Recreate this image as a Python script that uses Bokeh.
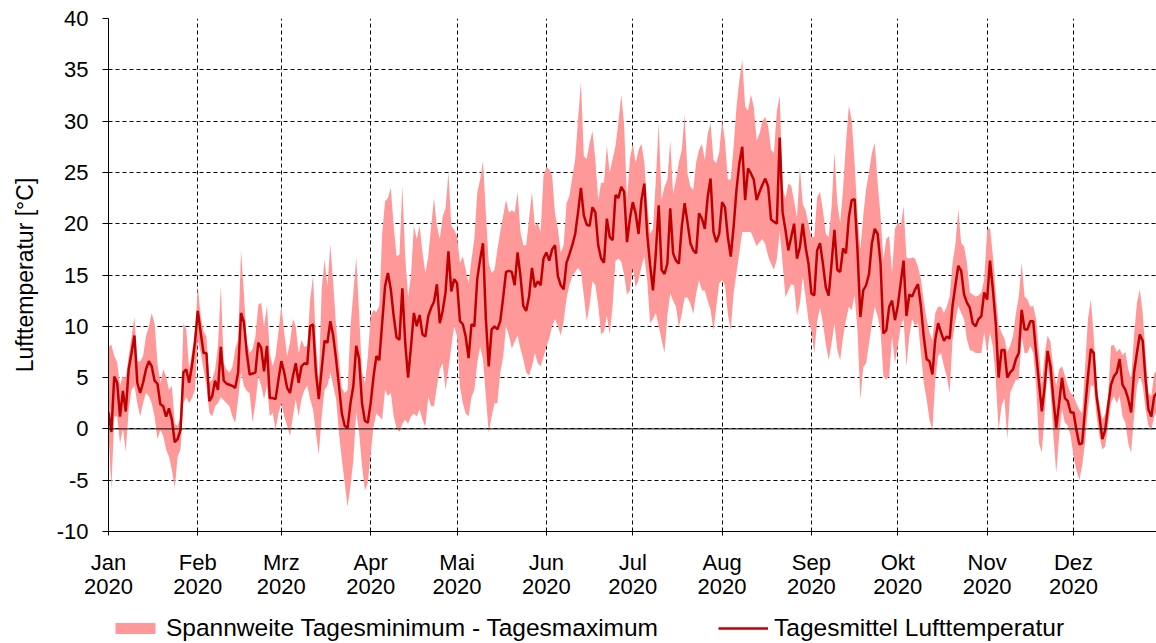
import numpy as np
from bokeh.plotting import figure
from bokeh.layouts import column
from bokeh.models import (Range1d, FixedTicker, Span, Legend, LegendItem,
                          ColumnDataSource)
from bokeh.embed import file_html
from bokeh.resources import INLINE

# Daily air temperature 2020 (°C): daily mean, daily minimum, daily maximum
t_mean = [
    # Jan
    1.6, -0.3, 5.1, 4.5, 1.2, 3.7, 1.7, 5.8, 7.4, 9.1, 4.5, 3.5, 4.5, 5.8, 6.6, 6.1,
    4.7, 4.4, 2.4, 2.2, 1.2, 2.0, 0.9, -1.3, -1.0, -0.1, 5.5, 5.8, 4.5, 6.2, 8.4,
    # Feb
    11.5, 9.4, 7.4, 7.4, 2.7, 3.2, 4.7, 3.8, 8.0, 4.7, 4.4, 4.3, 4.2, 4.0, 5.5,
    11.3, 10.4, 7.4, 5.3, 5.4, 5.5, 8.4, 7.9, 5.6, 8.1, 3.0, 3.0, 2.9, 4.8,
    # Mrz
    6.6, 5.5, 4.0, 3.5, 5.1, 6.4, 4.5, 6.1, 6.4, 6.3, 10.0, 10.2, 5.5, 2.9, 5.8,
    8.6, 8.4, 10.5, 9.1, 6.8, 4.2, 1.5, 0.3, 0.1, 2.5, 4.2, 8.1, 6.8, 2.5, 0.8, 0.6,
    # Apr
    2.5, 5.1, 7.1, 6.7, 10.3, 13.9, 15.2, 13.6, 11.0, 8.9, 8.7, 13.7, 8.4, 5.0, 8.0,
    11.3, 10.0, 11.1, 9.2, 9.0, 11.0, 11.8, 12.4, 14.1, 10.3, 11.5, 13.3, 17.3, 13.4, 14.6,
    # Mai
    14.2, 10.5, 10.2, 9.0, 6.9, 10.2, 10.0, 14.6, 16.5, 18.1, 10.7, 6.1, 9.7, 10.0, 9.7,
    10.5, 12.8, 15.3, 15.4, 15.3, 14.0, 17.2, 14.9, 12.0, 11.5, 12.9, 15.7, 13.8, 14.4, 14.0, 16.6,
    # Jun
    17.2, 16.4, 17.5, 17.9, 14.9, 14.0, 13.6, 16.2, 17.0, 17.9, 19.0, 21.1, 23.5, 20.8, 19.9,
    19.8, 21.6, 21.1, 17.9, 16.6, 16.2, 20.5, 18.7, 18.4, 22.8, 22.5, 23.6, 23.1, 18.2, 20.5,
    # Jul
    22.1, 21.0, 19.0, 22.3, 23.9, 19.0, 16.0, 13.5, 17.1, 21.8, 15.5, 15.1, 16.1, 21.5, 17.1,
    16.4, 16.1, 19.7, 22.0, 20.1, 18.1, 17.4, 17.1, 21.0, 20.5, 19.5, 22.6, 24.4, 19.2, 18.2, 19.0,
    # Aug
    22.1, 21.6, 18.7, 16.8, 19.7, 23.3, 25.9, 27.5, 22.3, 25.4, 24.9, 24.3, 22.3, 23.1, 23.8,
    24.4, 23.6, 20.4, 20.2, 20.0, 28.4, 21.1, 19.4, 17.4, 18.7, 20.0, 16.6, 17.7, 20.0, 17.7, 16.1,
    # Sep
    13.2, 13.0, 17.4, 18.1, 16.1, 13.8, 13.0, 16.1, 19.4, 15.5, 15.3, 17.6, 17.1, 20.6, 22.3,
    22.4, 17.4, 10.9, 13.5, 14.0, 15.1, 18.1, 19.5, 19.0, 16.1, 9.3, 9.6, 11.9, 12.5, 10.6,
    # Okt
    12.0, 14.2, 16.4, 11.0, 13.1, 12.9, 13.6, 14.1, 12.0, 9.0, 6.8, 6.6, 5.3, 8.7, 10.3,
    9.4, 8.6, 9.0, 8.8, 12.0, 14.0, 15.9, 15.4, 13.1, 12.3, 11.8, 10.3, 10.0, 10.7, 11.0, 13.3,
    # Nov
    12.6, 16.4, 13.6, 10.3, 5.0, 7.7, 7.7, 5.0, 5.5, 5.8, 6.8, 7.4, 11.6, 9.7, 9.7,
    10.5, 10.5, 7.4, 4.5, 1.7, 4.2, 7.6, 6.1, 2.9, 0.1, 2.5, 5.0, 3.0, 2.7, 1.6,
    # Dez
    1.6, -0.1, -1.5, -1.4, 1.9, 5.1, 7.8, 7.4, 3.2, 1.2, -1.0, -0.1, 2.2, 4.3, 5.1,
    5.5, 6.8, 4.3, 3.8, 2.9, 1.6, 5.5, 7.4, 9.2, 8.6, 4.8, 1.9, 1.2, 3.2, 3.5, 3.2,
]

t_max = [
    # Jan
    8.0, 8.2, 7.1, 6.5, 4.2, 5.1, 5.0, 7.1, 9.0, 10.9, 6.6, 6.6, 7.1, 9.0, 10.0, 11.3,
    10.3, 6.4, 4.5, 5.8, 5.1, 3.8, 4.2, 0.5, 0.3, 1.2, 10.3, 9.7, 5.8, 7.5, 9.4,
    # Feb
    13.9, 11.0, 9.5, 9.0, 4.5, 4.8, 5.8, 8.1, 13.9, 6.4, 5.8, 5.5, 6.0, 7.8, 8.7,
    17.4, 13.3, 8.5, 7.4, 7.8, 9.0, 12.1, 12.3, 10.0, 12.0, 7.4, 6.1, 7.1, 9.5,
    # Mrz
    12.0, 9.4, 7.1, 8.4, 10.7, 10.0, 7.4, 8.7, 8.0, 8.1, 12.6, 14.9, 8.4, 4.8, 13.6,
    16.5, 13.9, 18.0, 14.3, 10.0, 6.8, 4.0, 3.5, 3.8, 10.0, 13.3, 16.7, 11.3, 5.5, 4.5, 7.0,
    # Apr
    11.0, 11.6, 11.4, 12.0, 19.1, 22.2, 22.5, 23.5, 19.8, 16.8, 17.0, 23.7, 16.8, 12.9, 14.9,
    19.8, 18.5, 19.8, 17.2, 15.2, 16.8, 19.8, 22.5, 19.8, 18.5, 20.7, 21.5, 25.0, 19.8, 19.4,
    # Mai
    18.8, 16.2, 16.8, 15.5, 14.2, 16.5, 18.5, 23.0, 24.3, 26.1, 21.0, 16.2, 15.2, 15.5, 17.5,
    19.2, 20.8, 22.3, 21.1, 21.3, 21.1, 23.1, 19.2, 17.9, 17.9, 20.5, 23.1, 19.8, 20.1, 19.2, 24.7,
    # Jun
    25.5, 25.3, 24.7, 21.0, 19.5, 17.2, 17.9, 22.0, 22.7, 24.5, 26.3, 30.2, 33.8, 26.6, 26.3,
    27.9, 29.0, 26.3, 22.3, 24.0, 24.0, 27.6, 25.0, 26.3, 27.6, 29.9, 32.6, 29.6, 22.3, 26.3,
    # Jul
    27.8, 25.9, 27.2, 27.8, 26.0, 22.0, 19.0, 19.5, 24.3, 29.8, 22.3, 23.6, 24.3, 28.1, 22.9,
    24.3, 26.0, 27.2, 30.6, 24.9, 23.6, 23.3, 26.0, 27.2, 27.8, 26.2, 28.8, 29.8, 26.2, 25.9, 27.0,
    # Aug
    30.1, 28.1, 24.3, 24.3, 27.5, 31.4, 34.0, 36.0, 31.4, 31.0, 32.6, 31.4, 28.1, 28.8, 30.0,
    30.4, 29.5, 27.2, 26.9, 31.0, 32.5, 23.5, 22.5, 23.9, 23.7, 22.2, 20.6, 25.5, 21.9, 21.3, 20.0,
    # Sep
    18.7, 18.7, 22.6, 23.1, 21.3, 19.0, 18.7, 21.6, 27.0, 22.0, 20.1, 23.4, 27.9, 31.5, 30.1,
    25.9, 20.8, 17.5, 20.8, 23.4, 25.0, 26.9, 27.9, 24.0, 20.8, 16.5, 18.5, 18.8, 15.2, 19.5,
    # Okt
    20.1, 19.8, 21.7, 16.7, 16.6, 16.7, 16.6, 15.8, 14.6, 12.5, 10.7, 9.4, 8.7, 11.3, 11.9,
    11.9, 11.3, 11.9, 12.9, 16.2, 18.0, 21.4, 18.1, 17.8, 16.2, 13.3, 13.1, 12.9, 13.0, 13.3, 14.6,
    # Nov
    19.4, 19.6, 16.9, 13.3, 10.1, 9.4, 8.8, 7.5, 8.1, 9.1, 11.3, 12.9, 16.2, 12.9, 12.6,
    11.9, 12.0, 10.7, 7.5, 4.2, 7.4, 9.1, 8.5, 5.8, 4.2, 5.8, 6.1, 5.2, 4.2, 3.5,
    # Dez
    3.2, 2.5, 1.9, 1.5, 6.0, 10.7, 12.6, 9.1, 4.2, 2.5, 0.9, 1.5, 3.2, 8.1, 8.2,
    7.5, 7.8, 7.2, 7.5, 5.8, 4.9, 9.1, 12.3, 13.6, 11.3, 7.4, 3.5, 3.2, 5.4, 5.7, 6.4,
]

t_min = [
    # Jan
    -0.5, -5.9, 1.2, 1.2, -1.4, 0.0, -2.2, 1.9, 3.8, 4.2, 2.5, 1.2, 2.5, 3.5, 3.2, 2.5,
    1.2, -1.0, -0.1, -0.7, -2.0, -2.7, -4.0, -5.8, -2.7, -2.0, 2.5, 3.1, 2.5, 3.0, 3.8,
    # Feb
    8.7, 7.4, 5.8, 4.2, 1.6, 1.2, 2.2, 2.5, 3.1, 2.8, 2.5, 2.2, 1.2, 0.6, 2.9,
    5.5, 4.2, 3.7, 3.5, 0.6, 2.5, 5.1, 4.2, 2.9, 4.2, 1.2, 1.6, -0.1, 1.5,
    # Mrz
    2.5, 1.2, 0.3, -0.7, 1.2, 2.9, 1.2, 2.9, 3.8, 4.2, 2.9, 1.9, -0.4, -2.5, 1.2,
    3.8, 4.2, 5.5, 4.2, 2.9, -0.4, -3.0, -5.3, -7.6, -5.6, -3.0, 1.6, -0.4, -3.6, -6.0, -5.3,
    # Apr
    -2.5, 0.2, 1.5, 1.2, 0.9, 3.8, 3.2, 3.5, 1.2, 0.1, -0.3, 0.5, 0.9, 0.5, 1.2,
    1.5, 1.2, 1.9, 0.9, 0.2, 3.1, 2.2, 2.2, 4.1, 5.8, 6.4, 3.8, 5.8, 8.0, 10.0,
    # Mai
    9.0, 4.1, 2.5, 1.5, 1.2, 3.1, 3.8, 6.4, 8.0, 6.8, 3.1, -0.4, 1.2, 2.5, 2.5,
    5.5, 7.0, 10.0, 9.1, 7.8, 8.5, 9.1, 7.8, 6.8, 5.5, 5.2, 6.1, 7.4, 6.4, 6.1, 7.0,
    # Jun
    8.0, 8.8, 10.0, 10.7, 10.0, 9.1, 10.5, 12.7, 14.0, 14.9, 15.3, 15.7, 15.3, 13.0, 10.5,
    12.0, 14.4, 14.0, 12.0, 9.2, 9.5, 11.0, 9.2, 12.0, 16.4, 16.6, 16.3, 15.0, 13.1, 13.5,
    # Jul
    15.8, 13.8, 14.5, 15.8, 16.8, 14.5, 10.3, 10.7, 11.3, 10.0, 8.7, 7.4, 11.0, 13.2, 12.5,
    11.9, 9.9, 11.2, 12.8, 12.8, 12.2, 11.2, 13.2, 14.5, 13.5, 13.5, 12.5, 11.6, 9.6, 11.9, 14.2,
    # Aug
    14.5, 14.0, 11.2, 9.6, 13.2, 15.2, 17.2, 19.2, 19.2, 19.2, 19.2, 18.5, 17.8, 18.2, 18.5,
    18.0, 16.8, 16.1, 15.5, 16.5, 19.3, 16.1, 12.8, 13.5, 14.1, 14.0, 11.0, 12.2, 14.8, 12.8, 10.5,
    # Sep
    9.6, 7.3, 10.5, 11.8, 10.3, 8.3, 6.7, 8.3, 10.3, 7.7, 6.7, 9.0, 10.6, 11.9, 11.6,
    13.0, 9.6, 2.8, 6.0, 6.4, 8.3, 10.3, 11.9, 11.0, 9.6, 5.1, 4.8, 5.1, 9.0, 6.4,
    # Okt
    8.0, 10.0, 10.7, 6.1, 9.0, 10.7, 10.0, 10.3, 7.4, 4.5, 2.9, 0.9, -0.1, 4.8, 7.1,
    7.4, 6.1, 5.1, 3.5, 8.7, 10.5, 12.0, 11.3, 10.7, 8.7, 7.7, 7.6, 7.4, 7.4, 7.4, 9.4,
    # Nov
    7.4, 9.4, 8.0, 4.8, -0.1, 2.2, 3.0, -1.0, 3.5, 4.2, 4.8, 4.8, 9.0, 7.4, 7.4,
    8.1, 7.4, 4.2, -1.4, -2.3, 1.6, 6.1, 3.8, -0.7, -4.3, -0.7, 1.9, 0.6, 0.3, -0.7,
    # Dez
    -2.7, -4.0, -5.0, -3.6, -1.4, 1.9, 4.2, 4.2, 1.2, -0.7, -2.0, -1.7, 0.3, 2.5, 3.2,
    2.5, 3.2, 1.2, 0.6, -1.4, -2.3, 1.2, 4.2, 5.2, 4.2, 1.9, 0.3, -0.1, 1.2, 1.9, 1.9,
]

# Month starts (day of year, 0 = 1 Jan 2020) and their axis labels
month_start = [0, 31, 60, 91, 121, 152, 182, 213, 244, 274, 305, 335]
month_names = ["Jan", "Feb", "Mrz", "Apr", "Mai", "Jun",
               "Jul", "Aug", "Sep", "Okt", "Nov", "Dez"]
year_label = "2020"
y_ticks = list(range(-10, 45, 5))

FONT = "Liberation Sans"
BAND_COLOR = "#FF9999"
LINE_COLOR = "#C00000"

days = np.arange(len(t_mean))
src = ColumnDataSource(dict(day=days, tmean=t_mean, tmin=t_min, tmax=t_max))

p = figure(width=1156, height=605, output_backend="svg", toolbar_location=None,
           x_range=Range1d(0, 363.8), y_range=Range1d(-10, 40),
           min_border_left=108, min_border_right=0, min_border_top=18,
           min_border_bottom=74)
p.outline_line_color = None
p.background_fill_color = "white"
p.border_fill_color = "white"

band = p.varea(x="day", y1="tmin", y2="tmax", source=src, fill_color=BAND_COLOR)
line = p.line(x="day", y="tmean", source=src, line_color=LINE_COLOR, line_width=2.5)

# zero line drawn solid
p.add_layout(Span(location=0, dimension="width", line_color="black", line_width=1))

# grid
p.xgrid.ticker = FixedTicker(ticks=month_start)
p.ygrid.ticker = FixedTicker(ticks=y_ticks)
for g in (p.xgrid, p.ygrid):
    g.grid_line_color = "black"
    g.grid_line_dash = "4 3"
    g.grid_line_width = 1

# x axis: month name over year
xa = p.xaxis[0]
xa.ticker = FixedTicker(ticks=month_start)
xa.major_label_overrides = {d: f"{m}\n{year_label}" for d, m in zip(month_start, month_names)}
xa.major_tick_out = 4
xa.major_tick_in = 0
xa.minor_tick_line_color = None
xa.axis_line_color = "black"
xa.major_tick_line_color = "black"
xa.major_label_text_font = FONT
xa.major_label_text_font_size = "22px"
xa.major_label_text_color = "black"
xa.major_label_text_line_height = 0.98
xa.major_label_standoff = 14

# y axis
ya = p.yaxis[0]
ya.ticker = FixedTicker(ticks=y_ticks)
ya.major_label_overrides = {t: str(t) for t in y_ticks}
ya.major_tick_out = 6
ya.major_tick_in = 0
ya.minor_tick_line_color = None
ya.axis_line_color = "black"
ya.major_tick_line_color = "black"
ya.major_label_text_font = FONT
ya.major_label_text_font_size = "22px"
ya.major_label_text_color = "black"
ya.major_label_standoff = 14
ya.axis_label = "Lufttemperatur [°C]"
ya.axis_label_text_font = FONT
ya.axis_label_text_font_size = "23px"
ya.axis_label_text_font_style = "normal"
ya.axis_label_text_color = "black"
ya.axis_label_standoff = 16

# legend strip underneath the chart
leg = figure(width=1156, height=38, output_backend="svg", toolbar_location=None,
             x_range=Range1d(0, 1), y_range=Range1d(0, 1),
             min_border=0, min_border_left=108, min_border_right=0)
leg.outline_line_color = None
leg.axis.visible = False
leg.grid.visible = False
# swatch renderers for the legend, placed outside the visible range
leg_band = leg.varea(x=[5, 6], y1=[5, 5], y2=[6, 6], fill_color=BAND_COLOR)
leg_line = leg.line(x=[5, 6], y=[5, 5], line_color=LINE_COLOR, line_width=2.5)

legend = Legend(items=[
    LegendItem(label="Spannweite Tagesminimum - Tagesmaximum", renderers=[leg_band]),
    LegendItem(label="Tagesmittel Lufttemperatur", renderers=[leg_line]),
], orientation="horizontal", location=(2, 1))
legend.border_line_color = None
legend.background_fill_alpha = 0
legend.glyph_width = 50
legend.glyph_height = 14
legend.label_height = 24
legend.label_standoff = 6
legend.spacing = 60
legend.padding = 2
legend.margin = 0
legend.label_text_font = FONT
legend.label_text_font_size = "24.5px"
legend.label_text_color = "black"
leg.add_layout(legend)

layout = column(p, leg, spacing=0)
open("out.html", "w").write(file_html(layout, INLINE))
